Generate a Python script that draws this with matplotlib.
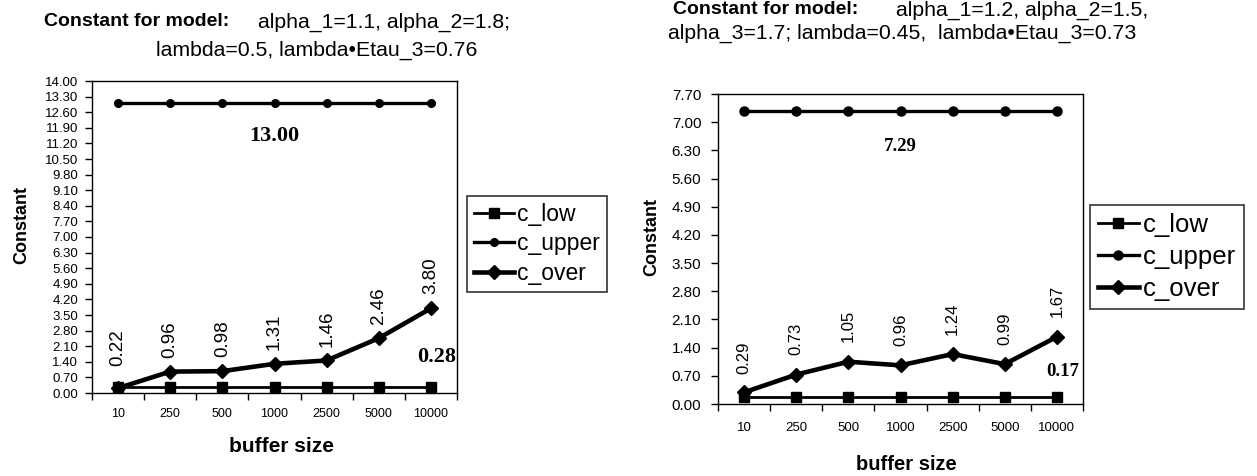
import matplotlib
matplotlib.use("Agg")
import matplotlib.pyplot as plt
from matplotlib.ticker import FixedLocator, NullFormatter, FixedFormatter
import numpy as np

plt.rcParams['font.family'] = ['Liberation Sans', 'DejaVu Sans']

# ---------------------------
# data
# ---------------------------
buffer_sizes = ['10', '250', '500', '1000', '2500', '5000', '10000']

left_low = [0.28] * 7
left_upper = [13.00] * 7
left_over = [0.22, 0.96, 0.98, 1.31, 1.46, 2.46, 3.80]

right_low = [0.17] * 7
right_upper = [7.29] * 7
right_over = [0.29, 0.73, 1.05, 0.96, 1.24, 0.99, 1.67]

left_title = ("Constant for model:", "alpha_1=1.1, alpha_2=1.8;", "lambda=0.5, lambda\u2022Etau_3=0.76")
right_title = ("Constant for model:", "alpha_1=1.2, alpha_2=1.5,", "alpha_3=1.7; lambda=0.45,  lambda\u2022Etau_3=0.73")

W, H = 1257, 476
fig = plt.figure(figsize=(W / 100, H / 100), dpi=100)


def draw_panel(rect, low, upper, over, ymax, p):
    ax = fig.add_axes(rect)
    x = np.arange(len(buffer_sizes))
    l1, = ax.plot(x, low, color='black', lw=2, marker='s', ms=7, label='c_low')
    l2, = ax.plot(x, upper, color='black', lw=2.4, marker='o', ms=p['circ'], label='c_upper')
    l3, = ax.plot(x, over, color='black', lw=3.3, marker='D', ms=7.5, label='c_over')

    ax.set_xlim(-0.5, len(buffer_sizes) - 0.5)
    ax.set_ylim(0, ymax)
    ax.set_yticks(np.arange(0, ymax + 0.001, 0.7))
    ax.yaxis.set_major_formatter(plt.FormatStrFormatter('%.2f'))
    ax.tick_params(axis='y', labelsize=p['ytick'], direction='out', length=5, width=1, pad=p['ypad'])

    # category ticks between the points, labels centred under them
    ax.xaxis.set_major_locator(FixedLocator(np.arange(-0.5, len(buffer_sizes), 1)))
    ax.xaxis.set_major_formatter(NullFormatter())
    ax.xaxis.set_minor_locator(FixedLocator(x))
    ax.xaxis.set_minor_formatter(FixedFormatter(buffer_sizes))
    ax.tick_params(axis='x', which='major', direction='out', length=5, width=1)
    ax.tick_params(axis='x', which='minor', length=0, labelsize=p['xtick'], pad=p['xpad'])

    for sp in ax.spines.values():
        sp.set_linewidth(1)

    # rotated labels above c_over points
    for i, v in enumerate(over):
        off = p['rot_off0'] if i == 0 else p['rot_off']
        ax.annotate('%.2f' % v, (i, v), xytext=(0, off), textcoords='offset points',
                    rotation=90, ha='center', va='bottom', fontsize=p['rot_fs'])

    ax.annotate('%.2f' % upper[3], (3, upper[3]), xytext=(0, -p['up_off']), textcoords='offset points',
                ha='center', va='top', fontsize=p['big'], fontweight='bold', family='Liberation Serif')
    ax.annotate('%.2f' % low[-1], (6, low[-1]), xytext=(4, p['low_off']), textcoords='offset points',
                ha='center', va='bottom', fontsize=p['big'], fontweight='bold', family='Liberation Serif')

    ax.set_ylabel('Constant', fontsize=13, fontweight='bold')
    ax.yaxis.set_label_coords(*p['ylab_xy'])
    ax.set_xlabel('buffer size', fontsize=p['xlab'], fontweight='bold')
    ax.xaxis.set_label_coords(*p['xlab_xy'])

    leg = fig.legend(handles=[l1, l2, l3], loc='upper left', bbox_to_anchor=p['leg'],
                     borderaxespad=0, fontsize=p['leg_fs'], frameon=True, fancybox=False, edgecolor='black',
                     handlelength=p['hlen'], handletextpad=0.15, labelspacing=p['lspace'], borderpad=0.3)
    leg.get_frame().set_linewidth(1.2)
    return ax


left_style = dict(circ=5.5, ytick=9.5, ypad=5, xtick=9, xpad=11, rot_fs=13.5, rot_off=10, rot_off0=16,
                  big=16, up_off=16, low_off=14, xlab=15,
                  ylab_xy=(-0.17, 0.54), xlab_xy=(0.52, -0.141), leg=(467 / W, 1 - 196 / H),
                  leg_fs=16.5, hlen=1.75, lspace=0.28)
right_style = dict(circ=6.5, ytick=11, ypad=7, xtick=9.5, xpad=13, rot_fs=12, rot_off=14, rot_off0=13,
                   big=13.5, up_off=20, low_off=12, xlab=14.5,
                   ylab_xy=(-0.159, 0.54), xlab_xy=(0.515, -0.165), leg=(1090 / W, 1 - 205 / H),
                   leg_fs=18.5, hlen=1.6, lspace=0.32)

axL = draw_panel([92 / W, 1 - 393 / H, 365 / W, 312 / H], left_low, left_upper, left_over, 14.0, left_style)
axR = draw_panel([718 / W, 1 - 404 / H, 365 / W, 310 / H], right_low, right_upper, right_over, 7.7, right_style)

# titles: bold lead-in then plain text, second line below
fig.text(44 / W, 1 - 22 / H, left_title[0], ha='left', va='center', fontsize=14, fontweight='bold')
fig.text(258 / W, 1 - 22 / H, left_title[1], ha='left', va='center', fontsize=15.3)
fig.text(156 / W, 1 - 50 / H, left_title[2], ha='left', va='center', fontsize=15.3)

fig.text(673 / W, 1 - 10 / H, right_title[0], ha='left', va='center', fontsize=14, fontweight='bold')
fig.text(896 / W, 1 - 10 / H, right_title[1], ha='left', va='center', fontsize=15.3)
fig.text(668 / W, 1 - 33 / H, right_title[2], ha='left', va='center', fontsize=15.3)

fig.savefig('out.png', dpi=100, facecolor='white')
